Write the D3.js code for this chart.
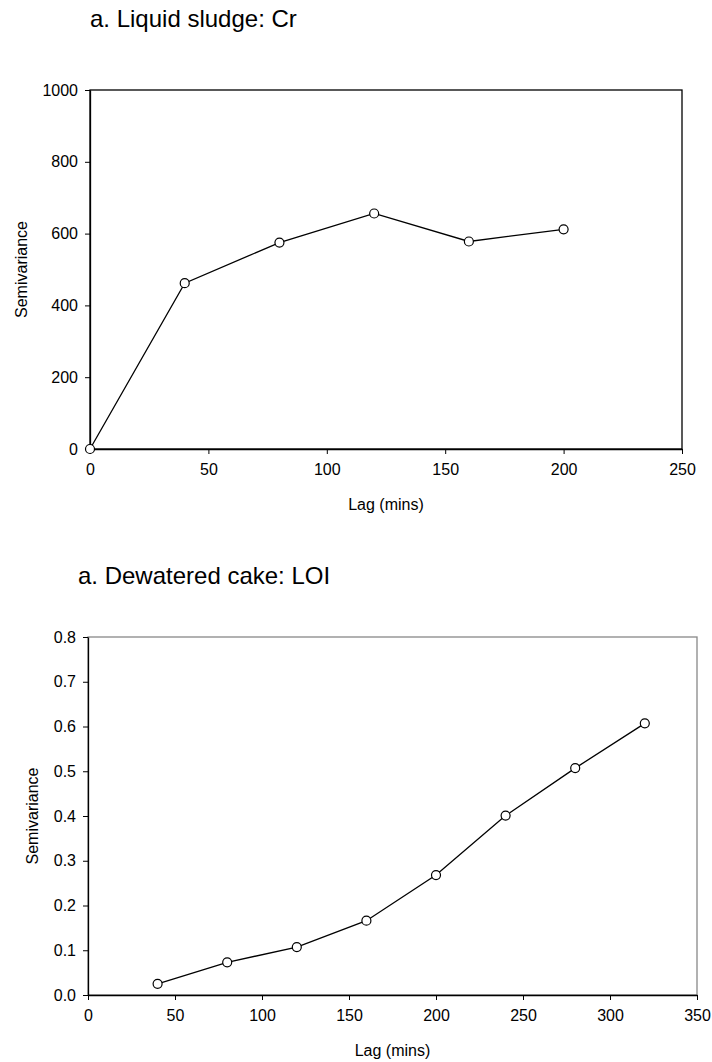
<!DOCTYPE html>
<html>
<head>
<meta charset="utf-8">
<script src="https://cdn.jsdelivr.net/npm/d3@7"></script>
<style>
  html, body { margin: 0; padding: 0; background: #fff; }
  svg { display: block; font-family: "Liberation Sans", Arial, sans-serif; }
</style>
</head>
<body>
<svg id="chart" width="712" height="1062"></svg>
<script>
// Semivariogram values: liquid sludge Cr
const crLag = [0, 40, 80, 120, 160, 200];
const crSemivariance = [0, 462, 575, 656, 578, 612];
const crYTicks = [0, 200, 400, 600, 800, 1000];
const crXTicks = [0, 50, 100, 150, 200, 250];

// Semivariogram values: dewatered cake LOI
const loiLag = [40, 80, 120, 160, 200, 240, 280, 320];
const loiSemivariance = [0.025, 0.073, 0.107, 0.166, 0.268, 0.401, 0.507, 0.607];
const loiYTicks = [0, 0.1, 0.2, 0.3, 0.4, 0.5, 0.6, 0.7, 0.8];
const loiXTicks = [0, 50, 100, 150, 200, 250, 300, 350];

const svg = d3.select("#chart");

function drawPanel(cfg) {
  const g = svg.append("g");
  const x = d3.scaleLinear().domain(cfg.xDomain).range([cfg.left, cfg.right]);
  const y = d3.scaleLinear().domain(cfg.yDomain).range([cfg.bottom, cfg.top]);

  // plot-area frame
  g.append("rect")
    .attr("x", cfg.left).attr("y", cfg.top)
    .attr("width", cfg.right - cfg.left).attr("height", cfg.bottom - cfg.top)
    .attr("fill", "none").attr("stroke", cfg.frameColor).attr("stroke-width", 1.3);

  // axes
  const yAxis = d3.axisLeft(y).tickValues(cfg.yTicks).tickFormat(cfg.yFormat)
    .tickSizeInner(5).tickSizeOuter(0).tickPadding(7);
  const xAxis = d3.axisBottom(x).tickValues(cfg.xTicks).tickFormat(d3.format("d"))
    .tickSizeInner(5).tickSizeOuter(0).tickPadding(10);

  const ya = g.append("g").attr("transform", `translate(${cfg.left},0)`).call(yAxis);
  const xa = g.append("g").attr("transform", `translate(0,${cfg.bottom})`).call(xAxis);
  [ya, xa].forEach(a => {
    a.select(".domain").attr("stroke", "#000").attr("stroke-width", 1.3);
    a.selectAll(".tick line").attr("stroke", "#000").attr("stroke-width", 1);
    a.selectAll(".tick text").attr("fill", "#000").style("font-size", "16px")
      .style("font-family", "'Liberation Sans', Arial, sans-serif");
  });

  // series line
  const pts = cfg.xs.map((d, i) => [d, cfg.ys[i]]);
  g.append("path")
    .datum(pts)
    .attr("fill", "none").attr("stroke", "#000").attr("stroke-width", 1.3)
    .attr("d", d3.line().x(d => x(d[0])).y(d => y(d[1])));

  // open circle markers
  g.selectAll("circle.pt").data(pts).join("circle")
    .attr("class", "pt")
    .attr("cx", d => x(d[0])).attr("cy", d => y(d[1]))
    .attr("r", 4.5)
    .attr("fill", "#fff").attr("stroke", "#000").attr("stroke-width", 1.2);

  // titles
  g.append("text")
    .attr("x", cfg.titleX).attr("y", cfg.titleY)
    .style("font-size", "24px").attr("fill", "#000")
    .text(cfg.title);

  g.append("text")
    .attr("x", (cfg.left + cfg.right) / 2).attr("y", cfg.bottom + 61)
    .attr("text-anchor", "middle")
    .style("font-size", "16px").attr("fill", "#000")
    .text("Lag (mins)");

  g.append("text")
    .attr("transform", `translate(${cfg.yTitleX},${(cfg.top + cfg.bottom) / 2}) rotate(-90)`)
    .attr("text-anchor", "middle")
    .style("font-size", "16px").attr("fill", "#000")
    .text("Semivariance");
}

drawPanel({
  title: "a. Liquid sludge: Cr",
  titleX: 90, titleY: 27,
  left: 90, right: 682, top: 90, bottom: 449,
  xDomain: [0, 250], yDomain: [0, 1000],
  xTicks: crXTicks, yTicks: crYTicks, yFormat: d3.format("d"),
  xs: crLag, ys: crSemivariance,
  frameColor: "#000",
  yTitleX: 27
});

drawPanel({
  title: "a. Dewatered cake: LOI",
  titleX: 78, titleY: 584,
  left: 88, right: 697, top: 637, bottom: 995,
  xDomain: [0, 350], yDomain: [0, 0.8],
  xTicks: loiXTicks, yTicks: loiYTicks, yFormat: d3.format(".1f"),
  xs: loiLag, ys: loiSemivariance,
  frameColor: "#888",
  yTitleX: 38
});
</script>
</body>
</html>
